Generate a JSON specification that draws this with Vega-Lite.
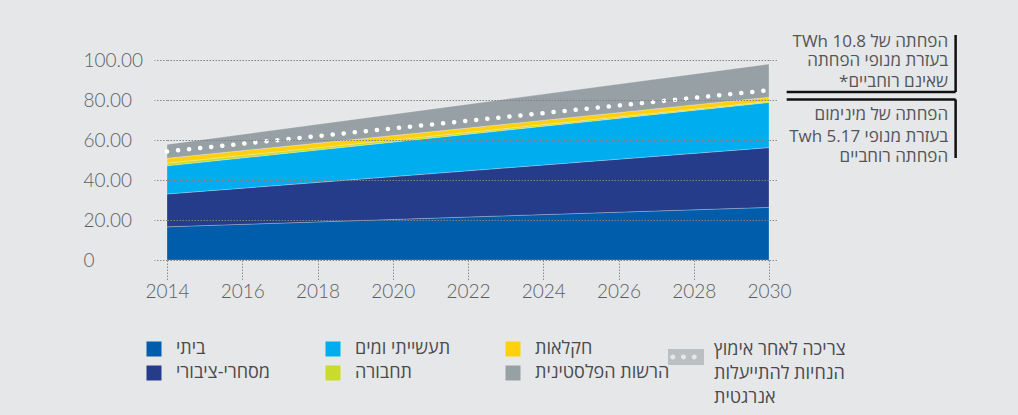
{
  "$schema": "https://vega.github.io/schema/vega-lite/v6.json",
  "width": 602,
  "height": 200,
  "autosize": {"type": "none"},
  "padding": {"left": 167, "top": 60, "right": 249, "bottom": 155},
  "background": "#e6e7e9",
  "config": {"view": {"stroke": null}, "font": "Lato"},
  "datasets": {
    "energy": [
      {"year": 2014, "sector": "ביתי", "value": 16.6},
      {"year": 2014, "sector": "מסחרי-ציבורי", "value": 16.4},
      {"year": 2014, "sector": "תעשייתי ומים", "value": 14.1},
      {"year": 2014, "sector": "תחבורה", "value": 1.3},
      {"year": 2014, "sector": "חקלאות", "value": 2.5},
      {"year": 2014, "sector": "הרשות הפלסטינית", "value": 6.9},
      {"year": 2022, "sector": "ביתי", "value": 21.5},
      {"year": 2022, "sector": "מסחרי-ציבורי", "value": 23.1},
      {"year": 2022, "sector": "תעשייתי ומים", "value": 18.3},
      {"year": 2022, "sector": "תחבורה", "value": 0.9},
      {"year": 2022, "sector": "חקלאות", "value": 2.2},
      {"year": 2022, "sector": "הרשות הפלסטינית", "value": 11.9},
      {"year": 2030, "sector": "ביתי", "value": 26.3},
      {"year": 2030, "sector": "מסחרי-ציבורי", "value": 29.9},
      {"year": 2030, "sector": "תעשייתי ומים", "value": 22.6},
      {"year": 2030, "sector": "תחבורה", "value": 0.5},
      {"year": 2030, "sector": "חקלאות", "value": 2.1},
      {"year": 2030, "sector": "הרשות הפלסטינית", "value": 16.6}
    ],
    "efficiency": [
      {"year": 2014, "value": 54.3, "series": "צריכה לאחר אימוץ הנחיות להתייעלות אנרגטית"},
      {"year": 2022, "value": 69.6, "series": "צריכה לאחר אימוץ הנחיות להתייעלות אנרגטית"},
      {"year": 2030, "value": 84.9, "series": "צריכה לאחר אימוץ הנחיות להתייעלות אנרגטית"}
    ],
    "brackets": [
      {"x": 2030.47, "x2": 2034.96, "y": 84, "y2": 84},
      {"x": 2034.96, "x2": 2034.96, "y": 112.5, "y2": 84},
      {"x": 2030.47, "x2": 2034.96, "y": 80.3, "y2": 80.3},
      {"x": 2034.96, "x2": 2034.96, "y": 80.3, "y2": 51}
    ],
    "notes": [
      {"x": 2034.76, "y": 109.2, "t": "TWh 10.8 הפחתה של"},
      {"x": 2034.76, "y": 99.3, "t": "בעזרת מנופי הפחתה"},
      {"x": 2034.76, "y": 89.0, "t": "*שאינם רוחביים"},
      {"x": 2034.76, "y": 72.3, "t": "הפחתה של מינימום"},
      {"x": 2034.76, "y": 61.7, "t": "Twh 5.17 בעזרת מנופי"},
      {"x": 2034.76, "y": 51.5, "t": "הפחתה רוחביים"}
    ]
  },
  "layer": [
    {
      "data": {"name": "energy"},
      "transform": [
        {"calculate": "indexof(['ביתי','מסחרי-ציבורי','תעשייתי ומים','תחבורה','חקלאות','הרשות הפלסטינית'], datum.sector)", "as": "stackOrder"}
      ],
      "mark": {"type": "area", "stroke": "#ffffff", "strokeWidth": 0.8, "strokeOpacity": 0.3},
      "encoding": {
        "x": {
          "field": "year", "type": "quantitative",
          "scale": {"domain": [2014, 2030], "nice": false, "zero": false},
          "axis": {
            "values": [2014, 2016, 2018, 2020, 2022, 2024, 2026, 2028, 2030],
            "format": "d", "title": null, "grid": false, "domain": false,
            "labelFlush": false, "labelOverlap": false,
            "tickSize": 20, "tickColor": "#8a8c8e", "tickDash": [1.5, 1.5], "tickWidth": 1,
            "labelFontSize": 19, "labelFontWeight": 300, "labelColor": "#5d5f61", "labelPadding": 2, "labelFont": "Lato"
          }
        },
        "y": {
          "field": "value", "type": "quantitative", "stack": "zero",
          "scale": {"domain": [0, 100], "nice": false},
          "axis": {
            "values": [0, 20, 40, 60, 80, 100], "title": null, "domain": false,
            "labelExpr": "datum.value == 0 ? '0' : format(datum.value, '.2f')",
            "labelAlign": "left", "labelPadding": 71, "labelFontSize": 19, "labelFontWeight": 300,
            "labelColor": "#5d5f61", "labelFont": "Lato", "labelBaseline": "middle",
            "tickSize": 13, "tickColor": "#8a8c8e", "tickDash": [1.5, 1.5], "tickWidth": 1,
            "grid": true, "gridColor": "#7f8284", "gridDash": [1.5, 1.5], "gridWidth": 1,
            "zindex": 1
          }
        },
        "order": {"field": "stackOrder", "type": "quantitative"},
        "color": {
          "field": "sector", "type": "nominal",
          "sort": ["ביתי", "מסחרי-ציבורי", "תעשייתי ומים", "תחבורה", "חקלאות", "הרשות הפלסטינית"],
          "scale": {"range": ["#005dab", "#253c8b", "#00aeef", "#c9dc2c", "#ffd10c", "#97a1a5"]},
          "legend": {
            "title": null, "orient": "none", "legendX": -22, "legendY": 280,
            "values": ["ביתי", "מסחרי-ציבורי", "תעשייתי ומים", "תחבורה", "חקלאות", "הרשות הפלסטינית"],
            "columns": 3, "columnPadding": 53, "rowPadding": 6, "padding": 0,
            "symbolType": "square", "symbolSize": 225, "symbolStrokeWidth": 0, "symbolOpacity": 1,
            "labelFont": "Open Sans, Liberation Sans, sans-serif", "labelFontSize": 18,
            "labelColor": "#4a4b4d", "labelOffset": 13, "labelLimit": 300
          }
        }
      }
    },
    {
      "data": {"name": "efficiency"},
      "mark": {"type": "line", "strokeWidth": 4.5, "strokeCap": "round", "strokeDash": [0.1, 11]},
      "encoding": {
        "x": {"field": "year", "type": "quantitative"},
        "y": {
          "field": "value", "type": "quantitative",
          "axis": {
            "orient": "right", "values": [0, 20, 40, 60, 80, 100], "title": null,
            "labels": false, "domain": false, "grid": false,
            "tickSize": 9, "tickColor": "#8a8c8e", "tickDash": [1.5, 1.5], "tickWidth": 1
          }
        },
        "stroke": {
          "field": "series", "type": "nominal",
          "scale": {"range": ["#ffffff"]},
          "legend": {
            "title": null, "orient": "none", "legendX": 501, "legendY": 279, "padding": 0,
            "symbolType": "M-1,-0.44H1V0.44H-1Z M-0.87,0a0.14,0.14 0 1,0 0.28,0a0.14,0.14 0 1,0 -0.28,0Z M-0.28,0a0.14,0.14 0 1,0 0.28,0a0.14,0.14 0 1,0 -0.28,0Z M0.32,0a0.14,0.14 0 1,0 0.28,0a0.14,0.14 0 1,0 -0.28,0Z",
            "symbolSize": 1296,
            "labelExpr": "['צריכה לאחר אימוץ', 'הנחיות להתייעלות', 'אנרגטית']",
            "labelFont": "Open Sans, Liberation Sans, sans-serif", "labelFontSize": 18,
            "labelColor": "#4a4b4d", "labelOffset": 10, "labelLimit": 300,
            "labelBaseline": "top",
            "encode": {
              "symbols": {"update": {"fill": {"value": "#bcbfc1"}, "stroke": {"value": "transparent"}, "strokeWidth": {"value": 0}, "opacity": {"value": 1}}},
              "labels": {"update": {"lineHeight": {"value": 24}, "dy": {"value": -16}}}
            }
          }
        }
      }
    },
    {
      "data": {"name": "brackets"},
      "mark": {"type": "rule", "color": "#111111", "strokeWidth": 2.5, "clip": false},
      "encoding": {
        "x": {"field": "x", "type": "quantitative"},
        "x2": {"field": "x2"},
        "y": {"field": "y", "type": "quantitative", "axis": null},
        "y2": {"field": "y2"}
      }
    },
    {
      "data": {"name": "notes"},
      "mark": {"type": "text", "align": "right", "baseline": "middle", "fontSize": 17, "color": "#545557", "font": "Open Sans, Liberation Sans, sans-serif", "clip": false},
      "encoding": {
        "x": {"field": "x", "type": "quantitative"},
        "y": {"field": "y", "type": "quantitative", "axis": null},
        "text": {"field": "t"}
      }
    }
  ],
  "resolve": {"axis": {"y": "independent"}}
}
